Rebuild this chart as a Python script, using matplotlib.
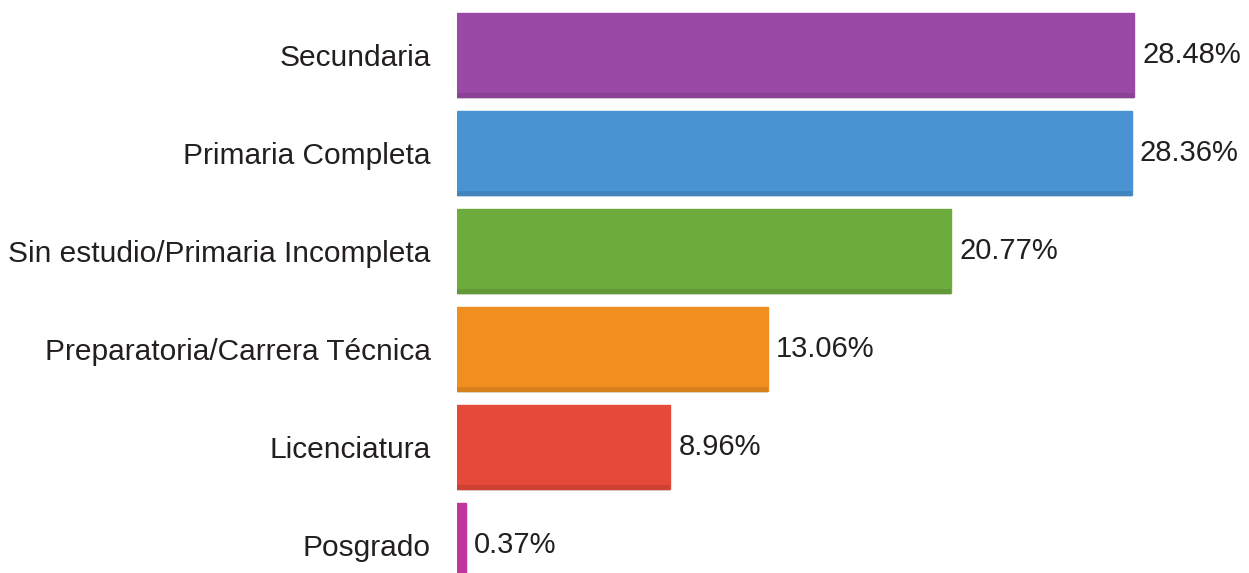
import matplotlib.pyplot as plt
import matplotlib

matplotlib.rcParams['font.family'] = ['Liberation Sans', 'DejaVu Sans']

# datos
categorias = ["Secundaria", "Primaria Completa", "Sin estudio/Primaria Incompleta",
              "Preparatoria/Carrera Técnica", "Licenciatura", "Posgrado"]
porcentajes = [28.48, 28.36, 20.77, 13.06, 8.96, 0.37]
colores = ['#9a4aa6', '#4a93d3', '#6cab3c', '#f08f20', '#e5493a', '#c0359c']

fig = plt.figure(figsize=(12.49, 5.73), dpi=100)
ax = fig.add_axes([457 / 1249, 0.0, 785 / 1249, 1 - 6 / 573])

y = list(range(len(categorias)))
bars = ax.barh(y, porcentajes, height=0.85, color=colores, edgecolor=colores, linewidth=1)

# borde inferior un poco mas oscuro para dar algo de volumen
for b in bars:
    ax.barh(b.get_y() + b.get_height() - 0.04, b.get_width(), height=0.06,
            color='black', alpha=0.10, align='edge', linewidth=0)

for i, v in enumerate(porcentajes):
    ax.annotate(f"{v:.2f}%", xy=(v, i), xytext=(6, 0), textcoords='offset points',
                va='center', ha='left', fontsize=21, color='#231f20')

ax.set_xlim(0, 33)
ax.set_ylim(5.286, -0.5)
ax.set_yticks(y)
ax.set_yticklabels(categorias, fontsize=21.5, color='#231f20')
ax.tick_params(axis='y', length=0, pad=19)
ax.set_xticks([])
for s in ax.spines.values():
    s.set_visible(False)

plt.savefig("out.png", dpi=100)
